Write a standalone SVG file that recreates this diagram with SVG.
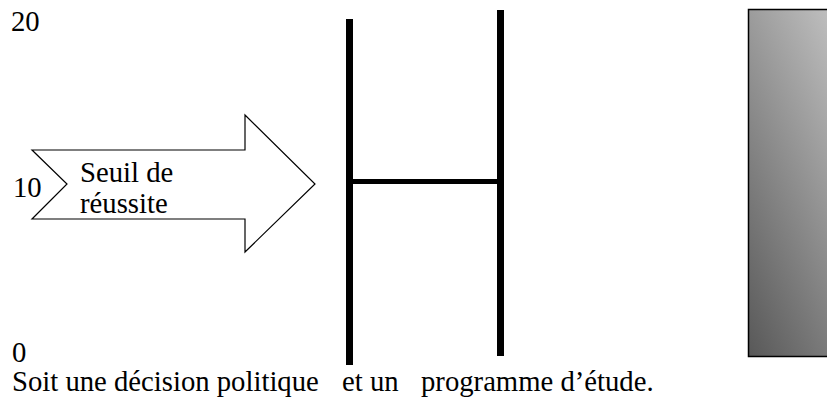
<svg xmlns="http://www.w3.org/2000/svg" width="827" height="406" viewBox="0 0 827 406">
<style>
text{font-family:'Liberation Serif','Times New Roman',Tinos,'DejaVu Serif',serif;font-size:28.7px;fill:#000}
.bar{stroke:#000;stroke-width:7;fill:none}
.hbar{stroke:#000;stroke-width:5;fill:none}
</style>
<defs>
<linearGradient id="g" x1="0" y1="1" x2="1" y2="0">
<stop offset="0" stop-color="#585858"/>
<stop offset="1" stop-color="#e0e0e0"/>
</linearGradient>
</defs>
<rect width="827" height="406" fill="#fff"/>
<g id="axis-labels">
<text x="11" y="31">20</text>
<text x="13" y="197">10</text>
<text x="12" y="362">0</text>
</g>
<g id="arrow">
<polygon points="32,150 245,150 245,115 315,184 245,252 245,219 32,219 67,184" fill="#fff" stroke="#000" stroke-width="1.2"/>
<text x="80" y="182">Seuil de</text>
<text x="80" y="213">réussite</text>
</g>
<g id="connectors">
<line class="bar" x1="349.5" y1="19" x2="349.5" y2="365"/>
<line class="bar" x1="500.5" y1="10" x2="500.5" y2="356"/>
<line class="hbar" x1="353" y1="181.5" x2="497" y2="181.5"/>
</g>
<g id="gradient-box">
<rect x="748.5" y="9.5" width="160" height="347" fill="url(#g)" stroke="#000" stroke-width="1.5"/>
</g>
<g id="caption">
<text x="12" y="391">Soit une décision politique</text>
<text x="342" y="391">et un</text>
<text x="421" y="391">programme d’étude.</text>
</g>
</svg>
